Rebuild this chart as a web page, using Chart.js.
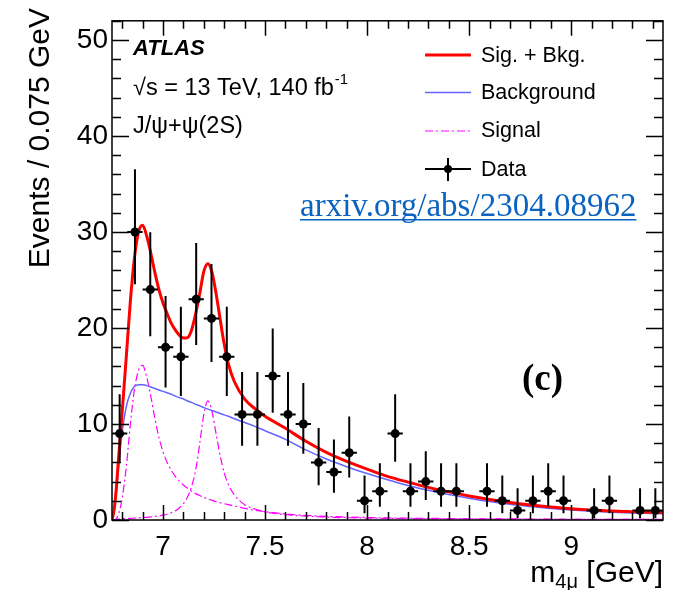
<!DOCTYPE html>
<html>
<head>
<meta charset="utf-8">
<script src="https://cdn.jsdelivr.net/npm/chart.js@4.4.0/dist/chart.umd.min.js"></script>
<style>
    html, body { margin: 0; padding: 0; background: #fff; }
    #contenedor { width: 692px; height: 590px; }
</style>
</head>
<body>
<div id="contenedor"><canvas id="graficoMasa" width="692" height="590"></canvas></div>
<script>
// histograma: bins de 0.075 GeV desde 6.75 GeV
const binInicio = 6.75;
const binAncho = 0.075;
const eventos = [9, 30, 24, 18, 17, 23, 21, 17, 11, 11, 15, 11, 10, 6, 5, 7, 2, 3,
                 9, 3, 4, 3, 3, 0, 3, 2, 1, 2, 3, 2, 0, 1, 2, 0, 1, 1];

// curvas del ajuste, muestreadas en masaCurva (GeV)
const masaCurva = [6.75, 6.76, 6.77, 6.78, 6.79, 6.80,
    6.82, 6.84, 6.86, 6.88, 6.90, 6.92, 6.94, 6.96, 6.98, 7.00, 7.02, 7.04, 7.06,
    7.08, 7.10, 7.12, 7.14, 7.16, 7.18, 7.20, 7.22, 7.24, 7.26, 7.28, 7.30, 7.32,
    7.35, 7.40, 7.45, 7.50,
    7.60, 7.70, 7.80, 7.90, 8.00, 8.10, 8.20, 8.30, 8.40, 8.50, 8.60, 8.70, 8.80,
    8.90, 9.00, 9.10, 9.20, 9.30, 9.45];
const curvaTotal = [0, 1.0, 3.0, 5.8, 8.6, 11.3,
    17.0, 22.8, 27.3, 30.0, 30.7, 29.6, 27.8, 25.8, 24.0, 22.6, 21.5, 20.5, 19.8,
    19.25, 18.95, 19.0, 19.8, 21.5, 23.6, 25.9, 26.7, 25.8, 23.6, 20.9, 18.3, 16.3,
    14.4, 12.6, 11.6, 10.8,
    9.55, 8.2, 7.05, 6.1, 5.3, 4.55, 3.95, 3.4, 2.93, 2.5, 2.13, 1.82, 1.57,
    1.36, 1.18, 1.05, 0.93, 0.86, 0.77];
const curvaFondo = [0, 0.8, 2.6, 5.0, 7.3, 9.2,
    11.8, 13.2, 13.9, 14.1, 14.1, 14.0, 13.85, 13.7, 13.55, 13.4, 13.25, 13.1, 12.9,
    12.75, 12.6, 12.4, 12.25, 12.05, 11.9, 11.7, 11.55, 11.4, 11.25, 11.1, 10.95, 10.8,
    10.55, 10.15, 9.75, 9.3,
    8.4, 7.3, 6.35, 5.55, 4.85, 4.2, 3.6, 3.1, 2.66, 2.27, 1.92, 1.63, 1.4,
    1.19, 1.03, 0.9, 0.8, 0.73, 0.66];
const curvaSenal1 = [0, 0, 0.1, 0.5, 1.2, 2.3,
    5.5, 10.0, 13.6, 15.6, 16.1, 14.9, 12.9, 10.6, 8.6, 7.1, 6.0, 5.2, 4.55,
    4.05, 3.65, 3.3, 3.0, 2.75, 2.55, 2.35, 2.2, 2.05, 1.9, 1.8, 1.7, 1.6,
    1.45, 1.22, 1.02, 0.87,
    0.63, 0.48, 0.38, 0.31, 0.26, 0.22, 0.19, 0.17, 0.15, 0.13, 0.12, 0.11, 0.1,
    0.09, 0.08, 0.08, 0.07, 0.07, 0.06];
const curvaSenal2 = [0, 0.05, 0.08, 0.1, 0.12, 0.13,
    0.15, 0.17, 0.2, 0.22, 0.25, 0.28, 0.32, 0.37, 0.43, 0.5, 0.6, 0.75, 0.95,
    1.25, 1.7, 2.4, 3.5, 5.2, 8.0, 11.0, 12.4, 11.3, 9.0, 6.7, 4.9, 3.7,
    2.6, 1.6, 1.15, 0.85,
    0.55, 0.4, 0.3, 0.24, 0.2, 0.17, 0.15, 0.13, 0.12, 0.11, 0.1, 0.09, 0.08,
    0.08, 0.07, 0.07, 0.06, 0.06, 0.05];

const ticksX = [7, 7.5, 8, 8.5, 9];
const ticksY = [0, 10, 20, 30, 40, 50];

const fuente = '"Liberation Sans", Arial, sans-serif';
const fuenteSerif = '"Liberation Serif", "Times New Roman", serif';

// intervalo de Poisson al 68% (Garwood) para cada bin
function poissonAcum(k, mu){
    let termino = Math.exp(-mu);
    let suma = termino;
    for(let i = 1; i <= k; i++){
        termino *= mu / i;
        suma += termino;
    }
    return suma;
}
function limiteSup(n){
    let a = n, b = n + 30;
    for(let i = 0; i < 60; i++){
        let m = (a + b) / 2;
        if(poissonAcum(n, m) > 0.15866) a = m; else b = m;
    }
    return (a + b) / 2;
}
function limiteInf(n){
    if(n == 0) return 0;
    let a = 0, b = n;
    for(let i = 0; i < 60; i++){
        let m = (a + b) / 2;
        if(poissonAcum(n - 1, m) > 0.84134) a = m; else b = m;
    }
    return (a + b) / 2;
}

function curva(valores){
    return masaCurva.map(function(m, i){ return {x: m, y: valores[i]}; });
}

// los bins vacios no se dibujan
let puntosDatos = [];
eventos.forEach(function(n, i){
    if(n > 0){
        let centro = binInicio + binAncho * (i + 0.5);
        puntosDatos.push({x: centro, y: n, lo: limiteInf(n), hi: limiteSup(n)});
    }
});

const barrasError = {
    id: 'barrasError',
    beforeDatasetDraw(chart, args){
        if(args.index !== 0) return;
        let ctx = chart.ctx;
        let sx = chart.scales.x, sy = chart.scales.y;
        ctx.save();
        ctx.strokeStyle = '#000';
        ctx.lineWidth = 2;
        ctx.beginPath();
        puntosDatos.forEach(function(p){
            let px = sx.getPixelForValue(p.x);
            let py = sy.getPixelForValue(p.y);
            ctx.moveTo(px, sy.getPixelForValue(p.lo));
            ctx.lineTo(px, sy.getPixelForValue(p.hi));
            ctx.moveTo(sx.getPixelForValue(p.x - binAncho / 2), py);
            ctx.lineTo(sx.getPixelForValue(p.x + binAncho / 2), py);
        });
        ctx.stroke();
        ctx.restore();
    }
};

// marco con marcas hacia dentro en los cuatro lados
const marco = {
    id: 'marco',
    afterDatasetsDraw(chart){
        let ctx = chart.ctx;
        let a = chart.chartArea;
        let sx = chart.scales.x, sy = chart.scales.y;
        ctx.save();
        ctx.strokeStyle = '#000';
        ctx.lineWidth = 1.5;
        ctx.strokeRect(a.left, a.top, a.right - a.left, a.bottom - a.top);
        ctx.beginPath();
        for(let k = 68; k <= 94; k++){
            let px = Math.round(sx.getPixelForValue(k / 10)) + 0.5;
            let largo = (k % 5 == 0) ? 15 : 8;
            ctx.moveTo(px, a.bottom); ctx.lineTo(px, a.bottom - largo);
            ctx.moveTo(px, a.top); ctx.lineTo(px, a.top + largo);
        }
        for(let v = 0; v <= 52; v += 2){
            let py = Math.round(sy.getPixelForValue(v)) + 0.5;
            let largo = (v % 10 == 0) ? 17 : 9;
            ctx.moveTo(a.left, py); ctx.lineTo(a.left + largo, py);
            ctx.moveTo(a.right, py); ctx.lineTo(a.right - largo, py);
        }
        ctx.stroke();
        ctx.restore();
    }
};

const textos = {
    id: 'textos',
    afterDraw(chart){
        let ctx = chart.ctx;
        ctx.save();
        ctx.fillStyle = '#000';

        // titulo eje Y, alineado arriba
        ctx.save();
        ctx.translate(41, 8);
        ctx.rotate(-Math.PI / 2);
        ctx.font = '30px ' + fuente;
        ctx.textAlign = 'right';
        ctx.textBaseline = 'middle';
        ctx.fillText('Events / 0.075 GeV', 0, 0);
        ctx.restore();

        // titulo eje X: m_{4μ} [GeV]
        ctx.textBaseline = 'alphabetic';
        ctx.textAlign = 'left';
        let fGrande = '30px ' + fuente;
        let fSub = '20px ' + fuente;
        ctx.font = fGrande;
        let w1 = ctx.measureText('m').width;
        let w3 = ctx.measureText(' [GeV]').width;
        ctx.font = fSub;
        let w2 = ctx.measureText('4μ').width;
        let x0 = 663 - (w1 + w2 + w3);
        ctx.font = fGrande;
        ctx.fillText('m', x0, 582);
        ctx.fillText(' [GeV]', x0 + w1 + w2, 582);
        ctx.font = fSub;
        ctx.fillText('4μ', x0 + w1, 588);

        // etiquetas ATLAS
        ctx.font = 'italic bold 22px ' + fuente;
        ctx.fillText('ATLAS', 133, 55);
        ctx.font = '23.5px ' + fuente;
        let linea = '√s = 13 TeV, 140 fb';
        ctx.fillText(linea, 133, 95);
        let wl = ctx.measureText(linea).width;
        ctx.font = '15px ' + fuente;
        ctx.fillText('-1', 133 + wl + 1, 84);
        ctx.font = '23.5px ' + fuente;
        ctx.fillText('J/ψ+ψ(2S)', 133, 133);

        // leyenda
        let xl1 = 425, xl2 = 471, xt = 481;
        ctx.lineWidth = 3;
        ctx.strokeStyle = '#ff0000';
        ctx.beginPath(); ctx.moveTo(xl1, 55); ctx.lineTo(xl2, 55); ctx.stroke();
        ctx.lineWidth = 1.5;
        ctx.strokeStyle = '#6464ff';
        ctx.beginPath(); ctx.moveTo(xl1, 92.5); ctx.lineTo(xl2, 92.5); ctx.stroke();
        ctx.lineWidth = 1.2;
        ctx.strokeStyle = '#ff00ff';
        ctx.setLineDash([8, 3, 2, 3]);
        ctx.beginPath(); ctx.moveTo(xl1, 131); ctx.lineTo(xl2, 131); ctx.stroke();
        ctx.setLineDash([]);
        ctx.lineWidth = 2;
        ctx.strokeStyle = '#000';
        ctx.beginPath();
        ctx.moveTo(xl1, 169); ctx.lineTo(xl2, 169);
        ctx.moveTo(448, 158); ctx.lineTo(448, 181);
        ctx.stroke();
        ctx.beginPath(); ctx.arc(448, 169, 4, 0, 2 * Math.PI); ctx.fill();

        ctx.font = '21.5px ' + fuente;
        ctx.textBaseline = 'middle';
        ctx.fillText('Sig. + Bkg.', xt, 56);
        ctx.fillText('Background', xt, 93);
        ctx.fillText('Signal', xt, 131);
        ctx.fillText('Data', xt, 170);

        // enlace
        ctx.textBaseline = 'alphabetic';
        let enlace = 'arxiv.org/abs/2304.08962';
        ctx.font = '28px ' + fuenteSerif;
        let we = ctx.measureText(enlace).width;
        let tam = 28 * 336 / we;
        ctx.font = tam.toFixed(1) + 'px ' + fuenteSerif;
        we = ctx.measureText(enlace).width;
        ctx.fillStyle = '#0b63c1';
        ctx.fillText(enlace, 300, 216);
        ctx.fillRect(300, 219, we, 1.5);

        ctx.fillStyle = '#000';
        ctx.font = 'bold 37px ' + fuenteSerif;
        ctx.fillText('(c)', 522, 390);
        ctx.restore();
    }
};

let ctx = document.getElementById('graficoMasa').getContext('2d');
let estiloSenal = {
    borderColor: '#ff00ff', borderWidth: 1.2, borderDash: [8, 3, 2, 3],
    pointRadius: 0, cubicInterpolationMode: 'monotone', fill: false
};
let grafico = new Chart(ctx, {
    type: 'line',
    data: {
        datasets: [
            {
                label: 'Data',
                data: puntosDatos,
                showLine: false,
                pointRadius: 4.5,
                pointBackgroundColor: '#000',
                pointBorderColor: '#000',
                pointBorderWidth: 0
            },
            {
                label: 'Sig. + Bkg.',
                data: curva(curvaTotal),
                borderColor: '#ff0000', borderWidth: 3,
                pointRadius: 0, cubicInterpolationMode: 'monotone', fill: false
            },
            {
                label: 'Background',
                data: curva(curvaFondo),
                borderColor: '#6464ff', borderWidth: 1.5,
                pointRadius: 0, cubicInterpolationMode: 'monotone', fill: false
            },
            Object.assign({label: 'Signal', data: curva(curvaSenal1)}, estiloSenal),
            Object.assign({label: 'Signal 2', data: curva(curvaSenal2)}, estiloSenal)
        ]
    },
    options: {
        responsive: false,
        animation: false,
        devicePixelRatio: 1,
        layout: { padding: { left: 0, top: 11, right: 29, bottom: 0 } },
        plugins: { legend: { display: false }, tooltip: { enabled: false } },
        scales: {
            x: {
                type: 'linear',
                min: 6.75,
                max: 9.45,
                grid: { display: false, drawTicks: false },
                border: { display: false },
                afterBuildTicks: function(eje){ eje.ticks = ticksX.map(function(v){ return {value: v}; }); },
                afterFit: function(eje){ eje.height = 70; },
                ticks: {
                    autoSkip: false, maxRotation: 0, padding: 10,
                    color: '#000',
                    font: { family: fuente, size: 28 },
                    callback: function(v){ return String(v); }
                }
            },
            y: {
                min: 0,
                max: 52,
                grid: { display: false, drawTicks: false },
                border: { display: false },
                afterBuildTicks: function(eje){ eje.ticks = ticksY.map(function(v){ return {value: v}; }); },
                afterFit: function(eje){ eje.width = 112; },
                ticks: {
                    autoSkip: false, padding: 4,
                    color: '#000',
                    font: { family: fuente, size: 28 }
                }
            }
        }
    },
    plugins: [barrasError, marco, textos]
});
</script>
</body>
</html>
